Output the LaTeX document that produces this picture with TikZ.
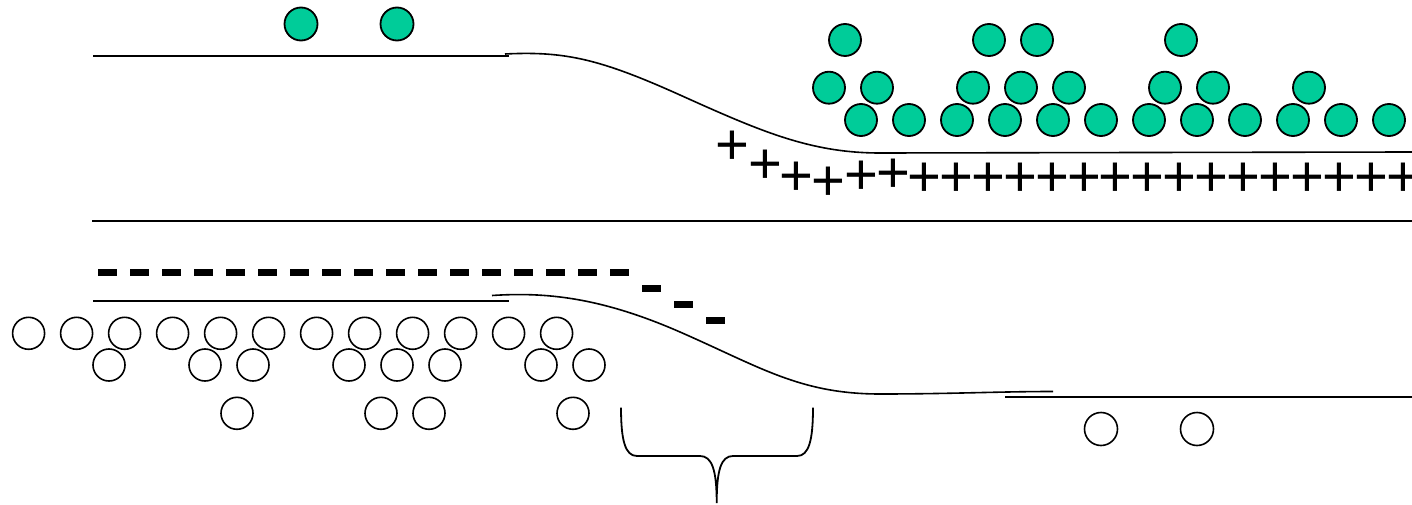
\documentclass[tikz,border=0pt]{standalone}
\usepackage{fontspec}
\newfontfamily\plusfont{Liberation Sans}
\definecolor{ionGreen}{RGB}{0,204,153}
\tikzset{
  gball/.style={circle,draw=black,line width=1.8pt,fill=ionGreen,minimum size=32pt,inner sep=0pt},
  wball/.style={circle,draw=black,line width=1.6pt,fill=white,minimum size=32pt,inner sep=0pt},
  edge/.style={line width=1.6pt,black},
  pluschar/.style={anchor=base,inner sep=0pt,font=\plusfont\fontsize{58}{58}\selectfont},
  minusbar/.style={fill=black},
  bracepath/.style={line width=1.8pt,black}
}
\begin{document}
\begin{tikzpicture}[x=1pt,y=-1pt]
\useasboundingbox (0,0) rectangle (1412,505);
% membrane-like lines
\coordinate (t0) at (93,56);
\coordinate (t1) at (509,56);
\draw[edge] (t0) -- (t1);
\coordinate (u0) at (505,54);
\coordinate (u1) at (680,95);
\coordinate (u2) at (880,153);
\coordinate (u3) at (1412,152);
\draw[edge] (u0) .. controls (565,51) and (600,59) .. (u1) .. controls (760,131) and (810,153) .. (u2) -- (u3);
\coordinate (m0) at (92,221);
\coordinate (m1) at (1412,221);
\draw[edge] (m0) -- (m1);
\coordinate (l0) at (93,301);
\coordinate (l1) at (509,301);
\draw[edge] (l0) -- (l1);
\coordinate (v0) at (492,295.5);
\coordinate (v1) at (680,332);
\coordinate (v2) at (880,394);
\coordinate (v3) at (1053,391.5);
\draw[edge] (v0) .. controls (545,292) and (600,297) .. (v1) .. controls (760,367) and (800,394) .. (v2) .. controls (950,394) and (1000,391.5) .. (v3);
\coordinate (r0) at (1005,397);
\coordinate (r1) at (1412,397);
\draw[edge] (r0) -- (r1);
% brace
\coordinate (b0) at (621,407.5);
\coordinate (b1) at (716.7,503);
\coordinate (b2) at (813,407.5);
\draw[bracepath] (b0) .. controls (621,440) and (625,456) .. (637,456) -- (700,456)
  .. controls (712,456) and (716.7,470) .. (b1)
  .. controls (716.7,470) and (721,456) .. (733,456) -- (797,456)
  .. controls (809,456) and (813,440) .. (b2);
% green balls
\node[gball,minimum size=33pt] (ga) at (301,24) {};
\node[gball,minimum size=33pt] (gb) at (397,24) {};
\foreach \x [count=\i] in {845,989,1037,1181} \node[gball] (gA\i) at (\x,40) {};
\foreach \x [count=\i] in {829,877,973,1021,1069,1165,1213,1309} \node[gball] (gB\i) at (\x,87.7) {};
\foreach \k in {0,...,11} \node[gball] (gC\k) at (861+48*\k,120) {};
% white balls
\foreach \k in {0,...,11} \node[wball] (wA\k) at (28.6+48*\k,333.3) {};
\foreach \x [count=\i] in {109,205,253,349,397,445,541,589} \node[wball] (wB\i) at (\x,365) {};
\foreach \x [count=\i] in {237,381,429,573} \node[wball] (wC\i) at (\x,413.3) {};
\node[wball,minimum size=33pt] (wD1) at (1101,429) {};
\node[wball,minimum size=33pt] (wD2) at (1197,429) {};
% plus charges
\foreach \x/\y [count=\i] in {732.7/144,765/162.7,796.5/175,828.5/179.3,861/173.3,893/171.7}
  \node[pluschar] (pa\i) at (\x,\y+20.9) {+};
\foreach \k in {0,...,15} \node[pluschar] (pb\k) at (924.5+31.9*\k,176+20.9) {+};
% minus charges
\foreach \k in {0,...,16} \fill[minusbar] (98+32*\k,269) rectangle ++(18.5,7);
\foreach \x/\y in {641.5/285,674/301,706/317} \fill[minusbar] (\x,\y) rectangle ++(19,7);
\end{tikzpicture}
\end{document}
